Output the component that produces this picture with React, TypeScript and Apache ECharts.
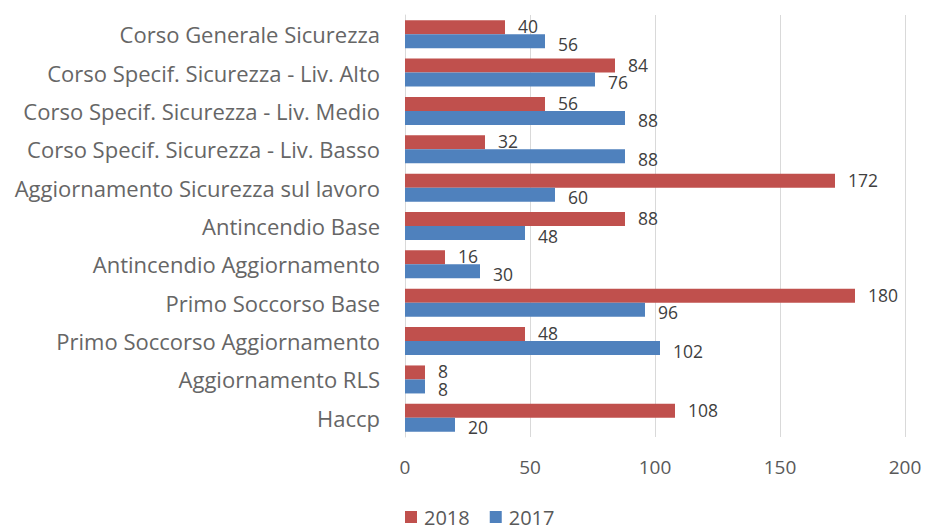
import React, { useEffect, useRef } from "react";
import * as echarts from "echarts";

const categories = [
  "Corso Generale Sicurezza",
  "Corso Specif. Sicurezza - Liv. Alto",
  "Corso Specif. Sicurezza - Liv. Medio",
  "Corso Specif. Sicurezza - Liv. Basso",
  "Aggiornamento Sicurezza sul lavoro",
  "Antincendio Base",
  "Antincendio Aggiornamento",
  "Primo Soccorso Base",
  "Primo Soccorso Aggiornamento",
  "Aggiornamento RLS",
  "Haccp",
];
const values2018 = [40, 84, 56, 32, 172, 88, 16, 180, 48, 8, 108];
const values2017 = [56, 76, 88, 88, 60, 48, 30, 96, 102, 8, 20];
const xTicks = [0, 50, 100, 150, 200];

const FONT = "'Open Sans', 'Noto Sans', sans-serif";

export default function App() {
  const ref = useRef<HTMLDivElement>(null);
  useEffect(() => {
    if (!ref.current) return;
    const chart = echarts.init(ref.current, null, { renderer: "svg" });
    const makeLabel = (dy: number) => ({
      show: true,
      position: "right",
      distance: 13,
      offset: [0, dy],
      fontFamily: FONT,
      fontSize: 17.5,
      lineHeight: 14,
      color: "#404040",
    });
    chart.setOption({
      animation: false,
      backgroundColor: "#ffffff",
      grid: { left: 405, right: 20, top: 15, bottom: 95, containLabel: false },
      legend: {
        bottom: 0,
        left: 400,
        itemWidth: 12,
        itemHeight: 12,
        itemGap: 20,
        icon: "rect",
        textStyle: { fontFamily: FONT, fontSize: 20, color: "#595959", padding: [0, 0, 0, 2] },
        data: ["2018", "2017"],
      },
      xAxis: {
        type: "value",
        min: xTicks[0],
        max: xTicks[xTicks.length - 1],
        interval: 50,
        axisLine: { show: false },
        axisTick: { show: false },
        splitLine: { show: true, lineStyle: { color: "#d9d9d9", width: 1 } },
        axisLabel: { margin: 20, fontFamily: FONT, fontSize: 19, color: "#595959" },
      },
      yAxis: {
        type: "category",
        inverse: true,
        data: categories,
        axisLine: { show: true, lineStyle: { color: "#d9d9d9" } },
        axisTick: { show: false },
        axisLabel: { margin: 25, fontFamily: FONT, fontSize: 22, color: "#666666" },
      },
      series: [
        {
          name: "2018",
          type: "bar",
          data: values2018,
          barWidth: 14,
          barGap: "0%",
          itemStyle: { color: "#C0504D" },
          label: makeLabel(-1),
        },
        {
          name: "2017",
          type: "bar",
          data: values2017,
          barWidth: 14,
          barGap: "0%",
          itemStyle: { color: "#4F81BD" },
          label: makeLabel(2.5),
        },
      ],
    });
    return () => chart.dispose();
  }, []);
  return (
    <div
      ref={ref}
      style={{ position: "fixed", left: 0, top: 0, width: 925, height: 532 }}
    />
  );
}
